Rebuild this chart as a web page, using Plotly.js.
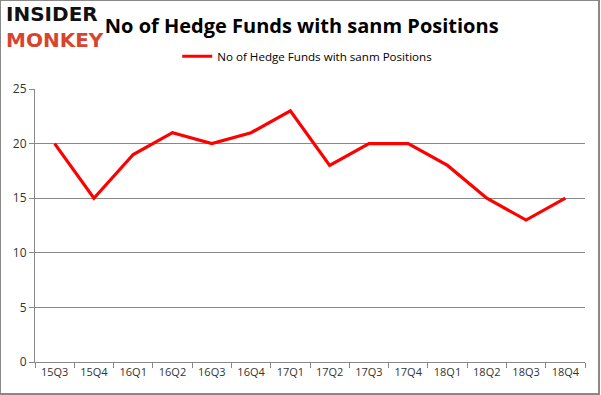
<!DOCTYPE html>
<html><head><meta charset="utf-8">
<script src="https://cdn.plot.ly/plotly-3.0.1.min.js"></script>
<style>
html,body{margin:0;padding:0;background:#fff;}
#wrap{position:absolute;left:0;top:0;width:597px;height:392px;border:1px solid #898989;border-right-width:2px;border-bottom-width:2px;overflow:hidden;}
#chart{position:absolute;left:-1px;top:-1px;width:601px;height:395px;}
</style></head>
<body><div id="wrap"><div id="chart"></div></div>
<script>
const quarters = ["15Q3","15Q4","16Q1","16Q2","16Q3","16Q4","17Q1","17Q2","17Q3","17Q4","18Q1","18Q2","18Q3","18Q4"];
const hedgeFunds = [20,15,19,21,20,21,23,18,20,20,18,15,13,15];
const seriesName = "No of Hedge Funds with sanm Positions";
const yTicks = [0,5,10,15,20,25];

const trace = {
  x: quarters, y: hedgeFunds, type: "scatter", mode: "lines", name: seriesName,
  line: {color: "#ff0000", width: 3.2}
};
const layout = {
  width: 601, height: 395,
  margin: {l: 35, r: 16, t: 89, b: 33},
  paper_bgcolor: "#fff", plot_bgcolor: "#fff",
  title: {text: "<b>No of Hedge Funds with sanm Positions</b>", x: 0.502, xanchor: "center", y: 0.935, yanchor: "middle",
    font: {family: "Open Sans, Liberation Sans, sans-serif", size: 20, color: "#000"}},
  showlegend: true,
  legend: {orientation: "h", x: 0.495, xanchor: "center", y: 1.12, yanchor: "middle",
    font: {family: "Open Sans, sans-serif", size: 11.6, color: "#000"}, itemwidth: 30, bgcolor: "rgba(0,0,0,0)"},
  xaxis: {type: "category", range: [-0.5, 13.5], tickvals: quarters, ticktext: quarters,
    tickson: "boundaries", ticks: "outside", ticklen: 5, tickcolor: "#888", showline: true, linecolor: "#888", linewidth: 1,
    showgrid: false, tickfont: {family: "Open Sans, sans-serif", size: 11, color: "#333"}, fixedrange: true},
  yaxis: {range: [0, 25], tickvals: yTicks, ticks: "outside", ticklen: 5, tickcolor: "#888",
    showline: true, linecolor: "#888", linewidth: 1, showgrid: true, gridcolor: "#888", gridwidth: 1, zeroline: false,
    tickfont: {family: "Open Sans, sans-serif", size: 12, color: "#333"}, fixedrange: true},
  annotations: [
    {text: "<b>INSIDER</b>", xref: "paper", yref: "paper", x: -0.056, y: 1.275, xanchor: "left", yanchor: "middle",
     showarrow: false, font: {family: "DejaVu Sans, sans-serif", size: 20, color: "#111"}},
    {text: "<b>MONKEY</b>", xref: "paper", yref: "paper", x: -0.056, y: 1.18, xanchor: "left", yanchor: "middle",
     showarrow: false, font: {family: "DejaVu Sans, sans-serif", size: 20, color: "#d64530"}}
  ]
};
Plotly.newPlot("chart", [trace], layout, {displayModeBar: false, staticPlot: true});
</script></body></html>
